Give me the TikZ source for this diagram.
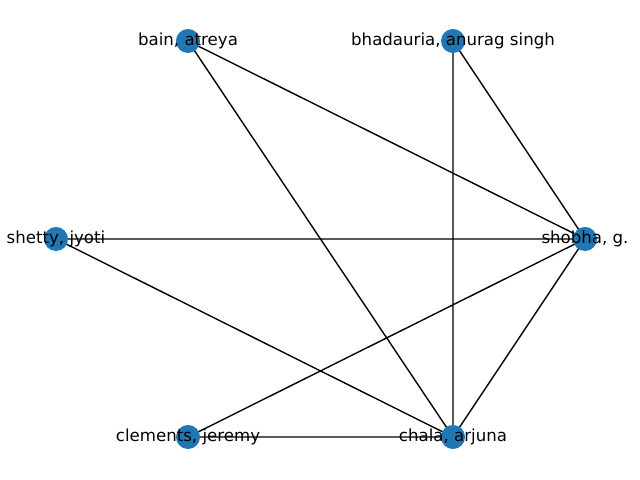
\documentclass[tikz,border=0pt]{standalone}
\usepackage{fontspec}
\setmainfont{DejaVu Sans}
\definecolor{nodeblue}{HTML}{1F77B4}
\tikzstyle{every node}=[font=\fontsize{12pt}{14pt}\selectfont]
\tikzstyle{every path}=[line width=1pt,line cap=round,line join=round]

\begin{document}
\begin{tikzpicture}[x=0.01in,y=-0.01in,
    person/.style={circle,fill=nodeblue,minimum size=0.24in,inner sep=0pt},
    edge/.style={draw=black}]
    \useasboundingbox (0,0) rectangle (640,480);

    % Define named coordinates for the people
    \coordinate (bain) at (188,41);
    \coordinate (bhad) at (453,41);
    \coordinate (shetty) at (56,239);
    \coordinate (shobha) at (585,239);
    \coordinate (clem) at (188,437);
    \coordinate (chala) at (453,437);

    % Connections
    \draw[edge] (bain) -- (shobha)
    (bain) -- (chala)
    (bhad) -- (shobha)
    (bhad) -- (chala)
    (shetty) -- (shobha)
    (shetty) -- (chala)
    (shobha) -- (clem)
    (shobha) -- (chala)
    (clem) -- (chala);

    % Dots
    \foreach \p in {bain,bhad,shetty,shobha,clem,chala}
    \node[person] (dot-\p) at (\p) {};

    % Names
    \node (lbl-bain) at (bain) {bain, atreya};
    \node (lbl-bhad) at (bhad) {bhadauria, anurag singh};
    \node (lbl-shetty) at (shetty) {shetty, jyoti};
    \node (lbl-shobha) at (shobha) {shobha, g.};
    \node (lbl-clem) at (clem) {clements, jeremy};
    \node (lbl-chala) at (chala) {chala, arjuna};
\end{tikzpicture}
\end{document}
